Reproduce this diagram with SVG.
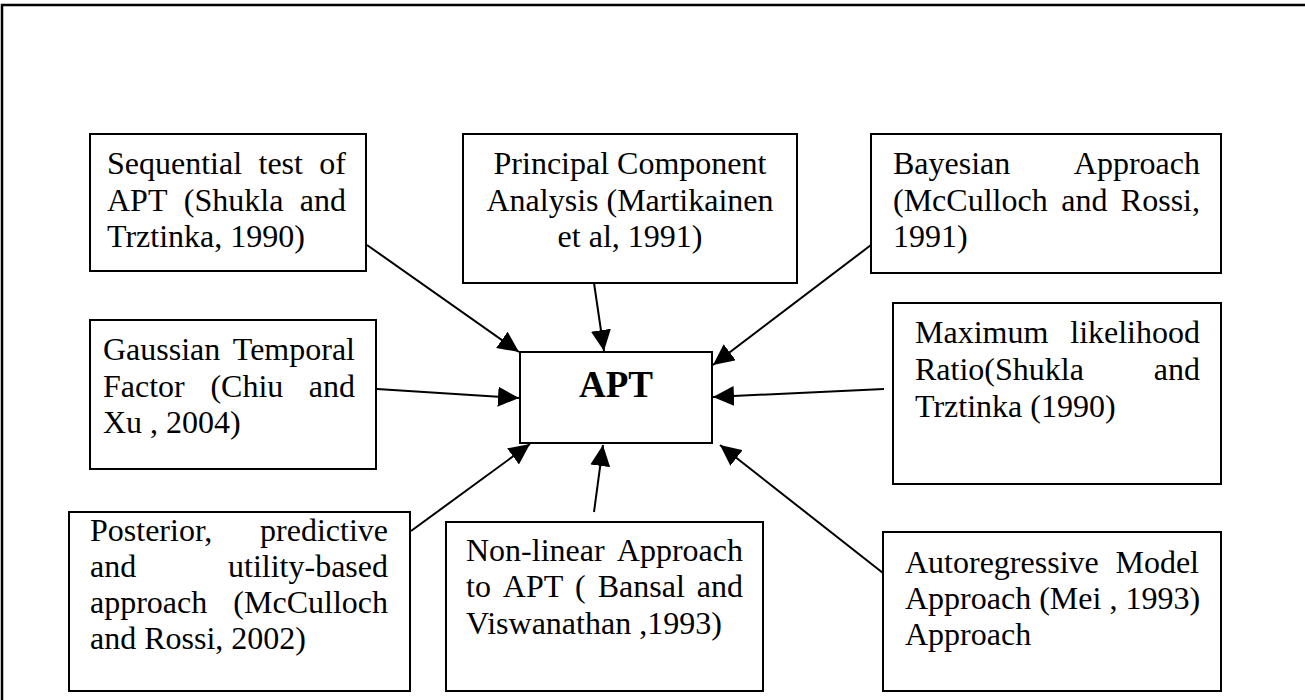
<svg xmlns="http://www.w3.org/2000/svg" width="1305" height="700" viewBox="0 0 1305 700">
<style>
.box{fill:#fff;stroke:#000;stroke-width:2}
.t{font-family:"Liberation Serif","Times New Roman",serif;font-size:32px;fill:#000}
.c{text-anchor:middle}
.apt{font-family:"Liberation Serif","Times New Roman",serif;font-size:37px;font-weight:bold;text-anchor:middle;fill:#000}
.conn line{stroke:#000;stroke-width:2;marker-end:url(#ah)}
.frame{stroke:#000;stroke-width:2.5;fill:none}
</style>
<defs>
<marker id="ah" markerUnits="userSpaceOnUse" markerWidth="21" markerHeight="20" refX="21" refY="10" orient="auto" viewBox="0 0 21 20">
<path d="M0,0 L21,10 L0,20 z" fill="#000"/>
</marker>
</defs>
<rect width="1305" height="700" fill="#fff"/>
<path class="frame" d="M2,700 V5 H1305"/>

<g id="n-sequential">
<rect class="box" x="90" y="134" width="276" height="137"/>
<text class="t" y="174"><tspan x="107">Sequential</tspan><tspan x="258.5">test</tspan><tspan x="346" text-anchor="end">of</tspan></text>
<text class="t" y="210.5"><tspan x="107">APT</tspan><tspan x="183.8">(Shukla</tspan><tspan x="346" text-anchor="end">and</tspan></text>
<text class="t" x="107" y="247">Trztinka, 1990)</text>
</g>

<g id="n-pca">
<rect class="box" x="463" y="134" width="334" height="149"/>
<text class="t c" x="630" y="174">Principal Component</text>
<text class="t c" x="630" y="210.5">Analysis (Martikainen</text>
<text class="t c" x="630" y="247">et al, 1991)</text>
</g>

<g id="n-bayesian">
<rect class="box" x="871" y="134" width="350" height="139"/>
<text class="t" y="174"><tspan x="893">Bayesian</tspan><tspan x="1200" text-anchor="end">Approach</tspan></text>
<text class="t" y="210.5"><tspan x="893">(McCulloch</tspan><tspan x="1061.2">and</tspan><tspan x="1200" text-anchor="end">Rossi,</tspan></text>
<text class="t" x="893" y="247">1991)</text>
</g>

<g id="n-gaussian">
<rect class="box" x="90" y="320" width="286" height="149"/>
<text class="t" y="360"><tspan x="103">Gaussian</tspan><tspan x="355" text-anchor="end">Temporal</tspan></text>
<text class="t" y="396.5"><tspan x="103">Factor</tspan><tspan x="210.4">(Chiu</tspan><tspan x="355" text-anchor="end">and</tspan></text>
<text class="t" x="103" y="433">Xu , 2004)</text>
</g>

<g id="n-apt">
<rect class="box" x="520" y="352" width="192" height="91"/>
<text class="apt" x="616" y="397">APT</text>
</g>

<g id="n-maxlik">
<rect class="box" x="893" y="303" width="328" height="181"/>
<text class="t" y="343"><tspan x="915">Maximum</tspan><tspan x="1200" text-anchor="end">likelihood</tspan></text>
<text class="t" y="380"><tspan x="915">Ratio(Shukla</tspan><tspan x="1200" text-anchor="end">and</tspan></text>
<text class="t" x="915" y="417">Trztinka (1990)</text>
</g>

<g id="n-posterior">
<rect class="box" x="69" y="512" width="341" height="179"/>
<text class="t" y="541"><tspan x="90">Posterior,</tspan><tspan x="388" text-anchor="end">predictive</tspan></text>
<text class="t" y="577"><tspan x="90">and</tspan><tspan x="388" text-anchor="end">utility-based</tspan></text>
<text class="t" y="613"><tspan x="90">approach</tspan><tspan x="388" text-anchor="end">(McCulloch</tspan></text>
<text class="t" x="90" y="649">and Rossi, 2002)</text>
</g>

<g id="n-nonlinear">
<rect class="box" x="446" y="522" width="317" height="169"/>
<text class="t" y="560.5"><tspan x="466">Non-linear</tspan><tspan x="743" text-anchor="end">Approach</tspan></text>
<text class="t" y="597"><tspan x="466">to</tspan><tspan x="502.8">APT</tspan><tspan x="575.1">(</tspan><tspan x="597.7">Bansal</tspan><tspan x="743" text-anchor="end">and</tspan></text>
<text class="t" x="466" y="633.5">Viswanathan ,1993)</text>
</g>

<g id="n-autoregressive">
<rect class="box" x="883" y="532" width="338" height="159"/>
<text class="t" y="573"><tspan x="905">Autoregressive</tspan><tspan x="1199" text-anchor="end">Model</tspan></text>
<text class="t" x="905" y="609">Approach (Mei , 1993)</text>
<text class="t" x="905" y="645">Approach</text>
</g>

<g id="connectors" class="conn">
<line x1="367" y1="245" x2="519" y2="352"/>
<line x1="594" y1="283" x2="604" y2="351"/>
<line x1="871" y1="245" x2="713" y2="365"/>
<line x1="377" y1="389" x2="519" y2="398"/>
<line x1="884" y1="389" x2="713" y2="397"/>
<line x1="411" y1="531" x2="530" y2="444"/>
<line x1="594" y1="512" x2="603" y2="445"/>
<line x1="883" y1="573" x2="720" y2="445"/>
</g>
</svg>
